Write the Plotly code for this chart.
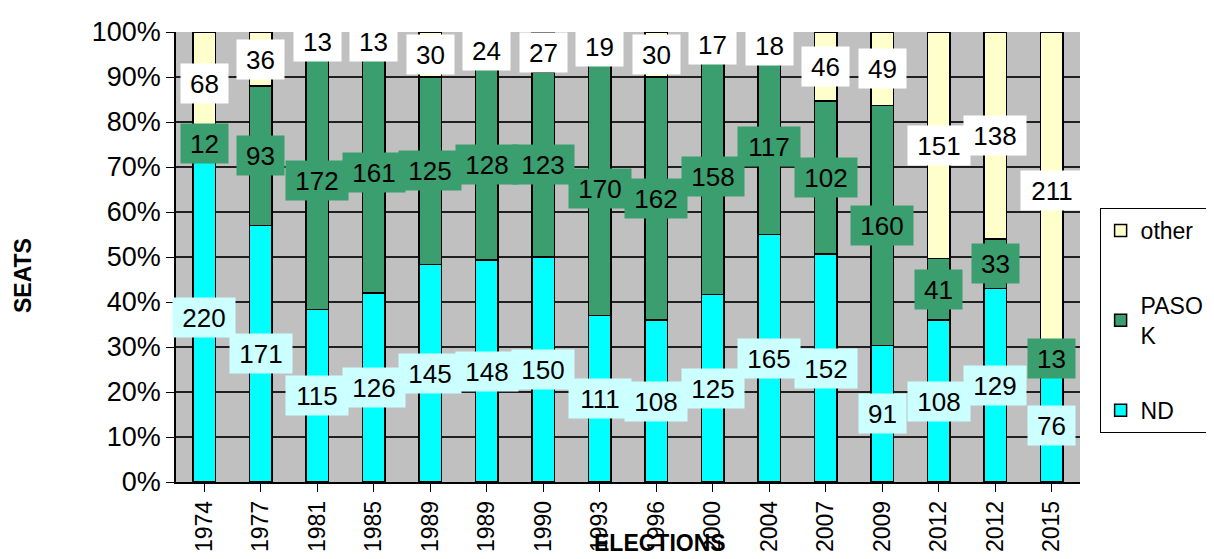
import plotly.graph_objects as go

years = ["1974", "1977", "1981", "1985", "1989", "1989", "1990", "1993", "1996",
         "2000", "2004", "2007", "2009", "2012", "2012", "2015"]
nd = [220, 171, 115, 126, 145, 148, 150, 111, 108, 125, 165, 152, 91, 108, 129, 76]
pasok = [12, 93, 172, 161, 125, 128, 123, 170, 162, 158, 117, 102, 160, 41, 33, 13]
other = [68, 36, 13, 13, 30, 24, 27, 19, 30, 17, 18, 46, 49, 151, 138, 211]

pos = list(range(len(years)))
FONT = "Arial, Liberation Sans, sans-serif"

c_nd, c_pasok, c_other = "#00FFFF", "#3A9E6F", "#FFFFCC"
lab_bg = {"ND": "#CCFFFF", "PASOK": "#3A9E6F", "other": "#FFFFFF"}

fig = go.Figure()
series = [("ND", nd, c_nd, 3), ("PASO<br>K", pasok, c_pasok, 2), ("other", other, c_other, 1)]
for i, (name, vals, col, rank) in enumerate(series):
    fig.add_trace(go.Bar(
        x=pos, y=vals, name=name, width=0.4,
        marker=dict(color=col, line=dict(color="black", width=1.5)),
        legendgroup=f"g{i}", legendrank=rank,
    ))

annotations = []
keys = ["ND", "PASOK", "other"]
for j in range(len(years)):
    total = nd[j] + pasok[j] + other[j]
    cum = 0
    for key, vals in zip(keys, [nd, pasok, other]):
        v = vals[j]
        center = (cum + v / 2) / total * 100
        cum += v
        annotations.append(dict(
            x=pos[j], y=center, xref="x", yref="y", text=str(v), showarrow=False,
            font=dict(family=FONT, size=26, color="black"),
            bgcolor=lab_bg[key], width=15 * len(str(v)) + 15, height=37,
            borderpad=1,
        ))

annotations.append(dict(x=(662 - 168) / 922, y=(474 - 535) / 450, xref="paper", yref="paper",
                        xanchor="center", yanchor="middle",
                        text="<b>ELECTIONS</b>", showarrow=False,
                        font=dict(family=FONT, size=23, color="black")))
annotations.append(dict(x=(12 - 168) / 922, y=(474 - 268) / 450, xref="paper", yref="paper",
                        xanchor="center", yanchor="middle",
                        text="<b>SEATS</b>", showarrow=False, textangle=-90,
                        font=dict(family=FONT, size=23, color="black")))

fig.update_layout(
    width=1214, height=559,
    barmode="stack", barnorm="percent",
    paper_bgcolor="white", plot_bgcolor="#C0C0C0",
    margin=dict(l=168, r=124, t=24, b=85),
    font=dict(family=FONT, size=22, color="black"),
    annotations=annotations,
    showlegend=True,
    legend=dict(
        x=(1110 - 168) / 922, y=(474 - 200) / 450, xanchor="left", yanchor="top",
        traceorder="grouped", tracegroupgap=42,
        bordercolor="black", borderwidth=1, bgcolor="white",
        font=dict(family=FONT, size=23, color="black"),
        itemwidth=30,
    ),
    xaxis=dict(
        tickmode="array", tickvals=pos, ticktext=years, tickangle=-90,
        range=[-0.5, len(years) - 0.5], tickson="boundaries",
        ticks="outside", ticklen=8, tickcolor="black",
        showgrid=True, gridcolor="#202020", gridwidth=1.5,
        showline=True, linecolor="black", linewidth=1.5,
        tickfont=dict(family=FONT, size=23), automargin=False, fixedrange=True,
    ),
    yaxis=dict(
        range=[0, 100], tickvals=list(range(0, 101, 10)),
        ticktext=[f"{v}%" for v in range(0, 101, 10)],
        ticks="outside", ticklen=8, tickcolor="black",
        showgrid=True, gridcolor="#202020", gridwidth=1.5,
        showline=True, linecolor="black", linewidth=1.5,
        tickfont=dict(family=FONT, size=27), automargin=False, zeroline=False,
    ),
)

fig.write_html("out.html")
